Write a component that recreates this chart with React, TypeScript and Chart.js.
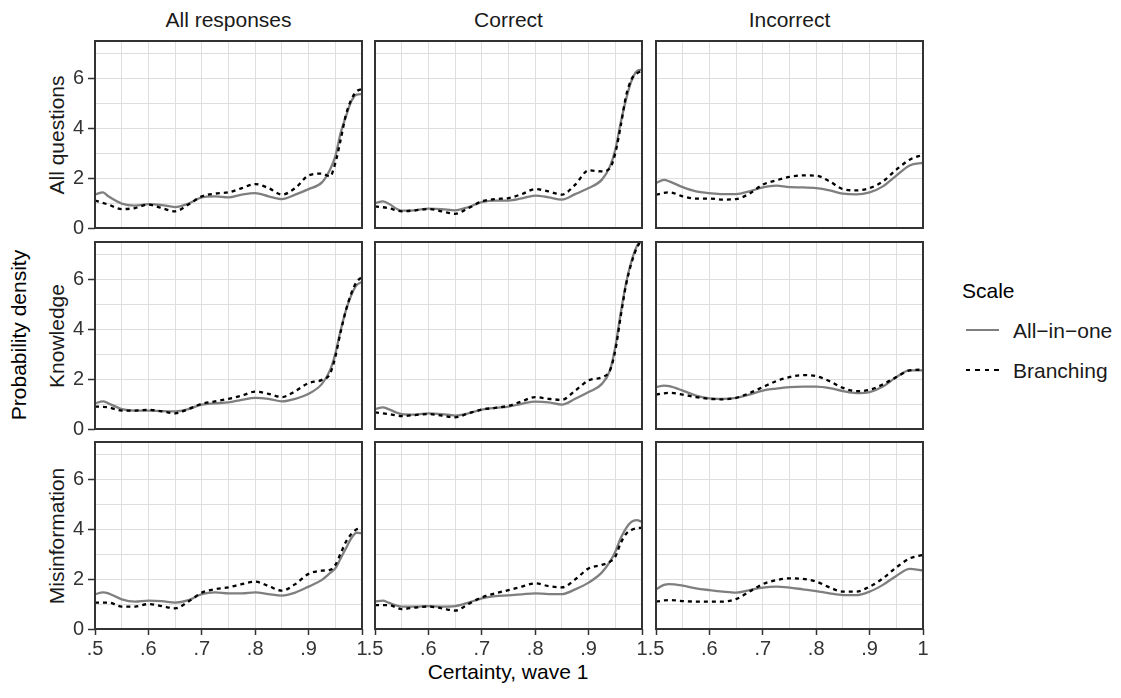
import React, { useEffect, useRef } from "react";
import { Chart, registerables } from "chart.js";

Chart.register(...registerables);

// ---------- labels ----------
const COLUMNS = ["All responses", "Correct", "Incorrect"];
const ROWS = ["All questions", "Knowledge", "Misinformation"];
const SERIES = ["All\u2212in\u2212one", "Branching"];
const LEGEND_TITLE = "Scale";
const X_TITLE = "Certainty, wave 1";
const Y_TITLE = "Probability density";

// ---------- ticks ----------
const X_TICKS = [0.5, 0.55, 0.6, 0.65, 0.7, 0.75, 0.8, 0.85, 0.9, 0.95, 1.0];
const X_TICK_LABELS = [".5", "", ".6", "", ".7", "", ".8", "", ".9", "", "1"];
const Y_TICKS = [0, 1, 2, 3, 4, 5, 6, 7];
const Y_TICK_LABELS = ["0", "", "2", "", "4", "", "6", ""];

// ---------- sample positions (certainty) ----------
const X_SOLID_12 = [0.5, 0.515, 0.525, 0.55, 0.575, 0.6, 0.625, 0.65, 0.675, 0.7, 0.725, 0.75, 0.775, 0.8, 0.825, 0.85, 0.875, 0.9, 0.925, 0.94, 0.95, 0.96, 0.97, 0.98, 0.99, 1.0];
const X_DASH_12 = [0.5, 0.525, 0.55, 0.575, 0.6, 0.625, 0.65, 0.675, 0.7, 0.725, 0.75, 0.775, 0.8, 0.825, 0.85, 0.875, 0.9, 0.925, 0.94, 0.95, 0.96, 0.97, 0.98, 0.99, 1.0];
const X_SOLID_3 = [0.5, 0.515, 0.525, 0.55, 0.575, 0.6, 0.625, 0.65, 0.675, 0.7, 0.725, 0.75, 0.775, 0.8, 0.825, 0.85, 0.875, 0.9, 0.925, 0.95, 0.975, 1.0];
const X_DASH_3 = [0.5, 0.525, 0.55, 0.575, 0.6, 0.625, 0.65, 0.675, 0.7, 0.725, 0.75, 0.775, 0.8, 0.825, 0.85, 0.875, 0.9, 0.925, 0.95, 0.975, 1.0];

// ---------- densities: All questions ----------
const AQ_ALL_SOLID = [1.34, 1.43, 1.27, 0.98, 0.9, 0.96, 0.92, 0.84, 0.98, 1.23, 1.27, 1.23, 1.34, 1.4, 1.27, 1.16, 1.34, 1.56, 1.83, 2.34, 2.87, 3.81, 4.48, 5.08, 5.35, 5.37];
const AQ_ALL_DASH = [1.1, 0.94, 0.76, 0.8, 0.94, 0.8, 0.67, 0.94, 1.27, 1.38, 1.43, 1.6, 1.76, 1.6, 1.34, 1.6, 2.11, 2.18, 2.07, 2.6, 3.54, 4.55, 5.15, 5.48, 5.57];
const AQ_COR_SOLID = [1.0, 1.07, 0.98, 0.7, 0.71, 0.78, 0.76, 0.71, 0.84, 1.04, 1.1, 1.1, 1.19, 1.3, 1.23, 1.14, 1.36, 1.6, 1.94, 2.47, 3.14, 4.21, 5.15, 5.88, 6.28, 6.35];
const AQ_COR_DASH = [0.87, 0.8, 0.67, 0.71, 0.76, 0.67, 0.57, 0.8, 1.07, 1.16, 1.2, 1.36, 1.56, 1.47, 1.34, 1.74, 2.31, 2.27, 2.4, 3.0, 4.08, 5.28, 5.95, 6.19, 6.31];
const AQ_INC_SOLID = [1.8, 1.93, 1.87, 1.64, 1.47, 1.4, 1.36, 1.36, 1.47, 1.63, 1.7, 1.64, 1.63, 1.6, 1.51, 1.38, 1.35, 1.43, 1.67, 2.1, 2.51, 2.61];
const AQ_INC_DASH = [1.34, 1.43, 1.27, 1.18, 1.18, 1.14, 1.16, 1.38, 1.74, 1.91, 2.05, 2.11, 2.1, 1.87, 1.56, 1.51, 1.6, 1.87, 2.34, 2.74, 2.94];

// ---------- densities: Knowledge ----------
const KN_ALL_SOLID = [1.03, 1.11, 1.03, 0.8, 0.74, 0.74, 0.72, 0.71, 0.8, 0.98, 1.03, 1.07, 1.17, 1.25, 1.21, 1.11, 1.21, 1.41, 1.81, 2.35, 3.02, 3.96, 4.77, 5.37, 5.77, 5.9];
const KN_ALL_DASH = [0.9, 0.87, 0.74, 0.74, 0.77, 0.71, 0.63, 0.8, 1.01, 1.11, 1.21, 1.34, 1.5, 1.41, 1.28, 1.52, 1.84, 1.97, 2.21, 2.89, 3.89, 4.77, 5.44, 5.9, 6.1];
const KN_COR_SOLID = [0.8, 0.87, 0.8, 0.6, 0.58, 0.63, 0.6, 0.54, 0.63, 0.78, 0.85, 0.9, 1.01, 1.1, 1.07, 0.98, 1.21, 1.48, 1.81, 2.35, 3.29, 4.63, 5.84, 6.71, 7.32, 7.65];
const KN_COR_DASH = [0.67, 0.6, 0.52, 0.56, 0.6, 0.54, 0.47, 0.63, 0.78, 0.85, 0.93, 1.11, 1.28, 1.21, 1.17, 1.54, 1.95, 2.08, 2.35, 3.15, 4.5, 5.77, 6.64, 7.25, 7.6];
const KN_INC_SOLID = [1.68, 1.74, 1.72, 1.54, 1.34, 1.23, 1.21, 1.25, 1.38, 1.54, 1.62, 1.68, 1.7, 1.7, 1.64, 1.52, 1.44, 1.48, 1.7, 2.08, 2.35, 2.35];
const KN_INC_DASH = [1.38, 1.45, 1.38, 1.28, 1.21, 1.19, 1.25, 1.44, 1.68, 1.92, 2.08, 2.16, 2.12, 1.92, 1.65, 1.52, 1.57, 1.79, 2.08, 2.35, 2.38];

// ---------- densities: Misinformation ----------
const MI_ALL_SOLID = [1.39, 1.47, 1.43, 1.19, 1.1, 1.14, 1.12, 1.06, 1.16, 1.4, 1.47, 1.43, 1.43, 1.47, 1.4, 1.34, 1.46, 1.7, 1.97, 2.24, 2.43, 2.83, 3.24, 3.64, 3.86, 3.84];
const MI_ALL_DASH = [1.06, 1.06, 0.9, 0.9, 1.0, 0.92, 0.83, 1.1, 1.46, 1.6, 1.67, 1.8, 1.9, 1.72, 1.54, 1.8, 2.21, 2.34, 2.37, 2.57, 3.03, 3.5, 3.81, 4.0, 4.04];
const MI_COR_SOLID = [1.1, 1.14, 1.06, 0.9, 0.9, 0.92, 0.9, 0.92, 1.06, 1.23, 1.32, 1.35, 1.39, 1.43, 1.4, 1.4, 1.59, 1.86, 2.27, 2.7, 3.1, 3.64, 4.04, 4.3, 4.37, 4.3];
const MI_COR_DASH = [0.96, 0.96, 0.8, 0.86, 0.9, 0.83, 0.74, 1.0, 1.27, 1.43, 1.56, 1.7, 1.83, 1.72, 1.67, 1.99, 2.43, 2.57, 2.7, 2.9, 3.44, 3.81, 3.97, 4.04, 4.06];
const MI_INC_SOLID = [1.59, 1.77, 1.8, 1.74, 1.63, 1.56, 1.5, 1.46, 1.56, 1.66, 1.7, 1.66, 1.59, 1.52, 1.43, 1.36, 1.36, 1.5, 1.77, 2.13, 2.41, 2.35];
const MI_INC_DASH = [1.1, 1.16, 1.12, 1.1, 1.1, 1.1, 1.2, 1.5, 1.8, 1.96, 2.03, 2.01, 1.9, 1.67, 1.5, 1.5, 1.7, 2.03, 2.47, 2.83, 2.97];

const GRID_SOLID = [
  [AQ_ALL_SOLID, AQ_COR_SOLID, AQ_INC_SOLID],
  [KN_ALL_SOLID, KN_COR_SOLID, KN_INC_SOLID],
  [MI_ALL_SOLID, MI_COR_SOLID, MI_INC_SOLID],
];
const GRID_DASH = [
  [AQ_ALL_DASH, AQ_COR_DASH, AQ_INC_DASH],
  [KN_ALL_DASH, KN_COR_DASH, KN_INC_DASH],
  [MI_ALL_DASH, MI_COR_DASH, MI_INC_DASH],
];

// ---------- layout ----------
const FONT = "'Liberation Sans', Arial, Helvetica, sans-serif";
const PANEL_LEFT = [95, 375, 656];
const PANEL_TOP = [41, 242, 442];
const PANEL_W = 267;
const PANEL_H = 187;
const PAD_L = 50;
const PAD_R = 22;
const PAD_T = 4;
const PAD_B = 40;
const Y_MAX = 7.5;
const GRID_COLOR = "#dedede";
const DARK = "#333333";
const SOLID_COLOR = "#7f7f7f";

const framePlugin = {
  id: "panelFrame",
  afterDraw(chart: any) {
    const { ctx, chartArea: a } = chart;
    ctx.save();
    ctx.strokeStyle = DARK;
    ctx.lineWidth = 2;
    ctx.strokeRect(a.left, a.top, a.right - a.left, a.bottom - a.top);
    ctx.restore();
  },
};

function pts(xs: number[], ys: number[]) {
  return xs.map((x, i) => ({ x, y: ys[i] }));
}

function Panel({ r, c }: { r: number; c: number }) {
  const ref = useRef<HTMLCanvasElement>(null);
  useEffect(() => {
    const showY = c === 0;
    const showX = r === 2;
    const xsSolid = c === 2 ? X_SOLID_3 : X_SOLID_12;
    const xsDash = c === 2 ? X_DASH_3 : X_DASH_12;
    const chart = new Chart(ref.current as HTMLCanvasElement, {
      type: "line",
      data: {
        datasets: [
          {
            label: SERIES[1],
            data: pts(xsDash, GRID_DASH[r][c]),
            borderColor: "#000000",
            borderWidth: 2.3,
            borderDash: [4, 4],
            pointRadius: 0,
            cubicInterpolationMode: "monotone",
            fill: false,
            order: 0,
          },
          {
            label: SERIES[0],
            data: pts(xsSolid, GRID_SOLID[r][c]),
            borderColor: SOLID_COLOR,
            borderWidth: 2.3,
            pointRadius: 0,
            cubicInterpolationMode: "monotone",
            fill: false,
            order: 1,
          },
        ],
      } as any,
      options: {
        responsive: false,
        animation: false,
        devicePixelRatio: 1,
        events: [],
        layout: { padding: { left: 0, top: PAD_T, right: PAD_R, bottom: 0 } },
        plugins: { legend: { display: false }, tooltip: { enabled: false }, title: { display: false } },
        scales: {
          x: {
            type: "linear",
            min: 0.5,
            max: 1,
            afterBuildTicks: (s: any) => {
              s.ticks = X_TICKS.map((v) => ({ value: v }));
            },
            afterFit: (s: any) => {
              s.height = PAD_B;
              s.paddingLeft = 0;
              s.paddingRight = 0;
            },
            border: { display: false },
            grid: {
              color: GRID_COLOR,
              lineWidth: 1,
              drawTicks: showX,
              tickLength: 6,
              tickWidth: 1.5,
              tickColor: (ctx: any) => (X_TICK_LABELS[ctx.index] ? DARK : "rgba(0,0,0,0)"),
            },
            ticks: {
              display: showX,
              autoSkip: false,
              maxRotation: 0,
              minRotation: 0,
              padding: 2,
              color: DARK,
              font: { family: FONT, size: 20 },
              callback: (_v: any, i: number) => X_TICK_LABELS[i],
            },
          },
          y: {
            type: "linear",
            min: 0,
            max: Y_MAX,
            afterBuildTicks: (s: any) => {
              s.ticks = Y_TICKS.map((v) => ({ value: v }));
            },
            afterFit: (s: any) => {
              s.width = PAD_L;
              s.paddingTop = 0;
              s.paddingBottom = 0;
            },
            border: { display: false },
            grid: {
              color: GRID_COLOR,
              lineWidth: 1,
              drawTicks: showY,
              tickLength: 7,
              tickWidth: 1.5,
              tickColor: (ctx: any) => (Y_TICK_LABELS[ctx.index] ? DARK : "rgba(0,0,0,0)"),
            },
            ticks: {
              display: showY,
              autoSkip: false,
              padding: 4,
              color: DARK,
              font: { family: FONT, size: 20 },
              callback: (_v: any, i: number) => Y_TICK_LABELS[i],
            },
          },
        },
      } as any,
      plugins: [framePlugin],
    });
    return () => chart.destroy();
  }, [r, c]);

  return (
    <canvas
      ref={ref}
      width={PANEL_W + PAD_L + PAD_R}
      height={PANEL_H + PAD_T + PAD_B}
      style={{
        position: "absolute",
        left: PANEL_LEFT[c] - PAD_L,
        top: PANEL_TOP[r] - PAD_T,
        width: PANEL_W + PAD_L + PAD_R,
        height: PANEL_H + PAD_T + PAD_B,
      }}
    />
  );
}

function Label({ text, x, y, rotate = false, size = 21, color = "#1a1a1a" }: any) {
  return (
    <div
      style={{
        position: "absolute",
        left: x,
        top: y,
        transform: `translate(-50%, -50%)${rotate ? " rotate(-90deg)" : ""}`,
        whiteSpace: "nowrap",
        fontFamily: FONT,
        fontSize: size,
        lineHeight: 1,
        color,
      }}
    >
      {text}
    </div>
  );
}

export default function App() {
  const panels: any[] = [];
  for (let r = 0; r < 3; r++) for (let c = 0; c < 3; c++) panels.push(<Panel key={`${r}-${c}`} r={r} c={c} />);
  return (
    <div style={{ position: "absolute", left: 0, top: 0, width: 1121, height: 698, background: "#ffffff", overflow: "hidden" }}>
      {COLUMNS.map((t, c) => (
        <Label key={t} text={t} x={PANEL_LEFT[c] + PANEL_W / 2} y={18.5} />
      ))}
      {ROWS.map((t, r) => (
        <Label key={t} text={t} x={55.5} y={PANEL_TOP[r] + PANEL_H / 2} rotate />
      ))}
      <Label text={Y_TITLE} x={18} y={335} rotate color="#000" />
      <Label text={X_TITLE} x={508} y={671} color="#000" />
      {panels}
      <div style={{ position: "absolute", left: 962, top: 280, fontFamily: FONT, fontSize: 21, lineHeight: 1, color: "#000" }}>
        {LEGEND_TITLE}
      </div>
      <div style={{ position: "absolute", left: 966, top: 329, width: 33, height: 2.3, background: SOLID_COLOR }} />
      <div
        style={{
          position: "absolute",
          left: 966,
          top: 369,
          width: 33,
          height: 2.3,
          background: "repeating-linear-gradient(to right, #000 0px, #000 4.5px, transparent 4.5px, transparent 9.5px)",
        }}
      />
      <div style={{ position: "absolute", left: 1013, top: 320, fontFamily: FONT, fontSize: 21, lineHeight: 1, color: "#1a1a1a", whiteSpace: "nowrap" }}>
        {SERIES[0]}
      </div>
      <div style={{ position: "absolute", left: 1013, top: 360, fontFamily: FONT, fontSize: 21, lineHeight: 1, color: "#1a1a1a", whiteSpace: "nowrap" }}>
        {SERIES[1]}
      </div>
    </div>
  );
}
